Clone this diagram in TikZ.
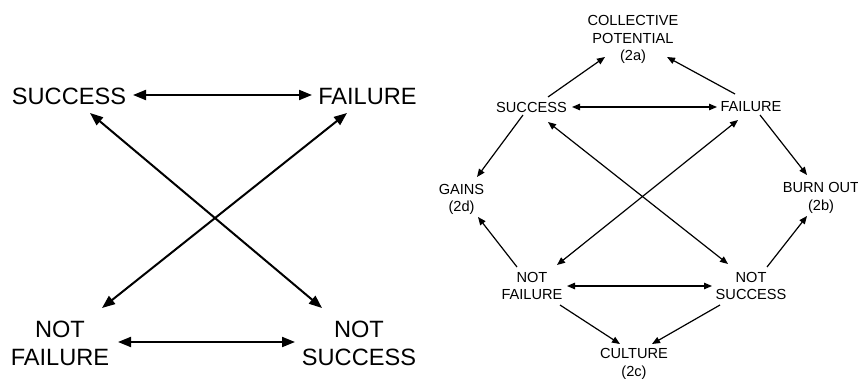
\documentclass[tikz,border=0pt]{standalone}
\usepackage{fontspec}
\setmainfont{Liberation Sans}
\usetikzlibrary{arrows.meta,calc}
\begin{document}
\begin{tikzpicture}[x=1pt,y=-1pt,
  bigtext/.style={inner sep=0pt,align=center,font=\fontsize{23.6}{28}\selectfont},
  smalltext/.style={inner sep=0pt,align=center,font=\fontsize{14.6}{17.5}\selectfont},
  bigarr/.style={line width=2pt,{Triangle[length=13pt,width=10pt]}-{Triangle[length=13pt,width=10pt]}},
  smallarr/.style={line width=1.2pt,{Triangle[length=8pt,width=6.5pt]}-{Triangle[length=8pt,width=6.5pt]}},
  smallone/.style={line width=1.2pt,-{Triangle[length=8pt,width=6.5pt]}}]
\useasboundingbox (0,0) rectangle (858,379);
% left diagram
\node[bigtext] (ls) at (69,96) {SUCCESS};
\node[bigtext] (lf) at (367.5,96) {FAILURE};
\node[bigtext] (nf) at (60,343) {NOT\\FAILURE};
\node[bigtext] (ns) at (359,343) {NOT\\SUCCESS};
\draw[bigarr] ($(ls.center)+(64,-1)$) -- ($(lf.center)+(-55.5,-1)$);
\draw[bigarr] ($(ls.center)+(21,17)$) -- ($(ns.center)+(-37,-35)$);
\draw[bigarr] ($(lf.center)+(-20.5,17)$) -- ($(nf.center)+(42,-35)$);
\draw[bigarr] ($(nf.center)+(58,-1)$) -- ($(ns.center)+(-64,-1)$);
% right diagram
\node[smalltext] (cp) at (633,39.5) {COLLECTIVE\\POTENTIAL\\(2a)};
\node[smalltext] (rs) at (531.5,107) {SUCCESS};
\node[smalltext] (rf) at (751,107) {FAILURE};
\node[smalltext] (gains) at (461.5,199.5) {GAINS\\(2d)};
\node[smalltext] (burn) at (821,198) {BURN OUT\\(2b)};
\node[smalltext] (rnf) at (532,286) {NOT\\FAILURE};
\node[smalltext] (rns) at (751,286) {NOT\\SUCCESS};
\node[smalltext] (cul) at (634,364) {CULTURE\\(2c)};
\draw[smallarr] ($(rs.center)+(40.5,0)$) -- ($(rf.center)+(-34,0)$);
\draw[smallone] ($(rs.center)+(16.5,-10)$) -- ($(cp.center)+(-28,17.5)$);
\draw[smallone] ($(rf.center)+(-16,-13)$) -- ($(cp.center)+(34,17.5)$);
\draw[smallone] ($(rs.center)+(-8.5,8)$) -- ($(gains.center)+(15.5,-22.5)$);
\draw[smallone] ($(rf.center)+(9,8)$) -- ($(burn.center)+(-14,-23)$);
\draw[smallarr] ($(rs.center)+(16.5,15)$) -- ($(rns.center)+(-23,-22)$);
\draw[smallarr] ($(rf.center)+(-13,13)$) -- ($(rnf.center)+(25,-21)$);
\draw[smallarr] ($(rnf.center)+(35,0)$) -- ($(rns.center)+(-39,0)$);
\draw[smallone] ($(rnf.center)+(-15,-19)$) -- ($(gains.center)+(16.5,17.5)$);
\draw[smallone] ($(rns.center)+(16,-19)$) -- ($(burn.center)+(-14,18)$);
\draw[smallone] ($(rnf.center)+(28,19)$) -- ($(cul.center)+(-14,-20)$);
\draw[smallone] ($(rns.center)+(-31,19)$) -- ($(cul.center)+(18,-20)$);
\end{tikzpicture}
\end{document}
